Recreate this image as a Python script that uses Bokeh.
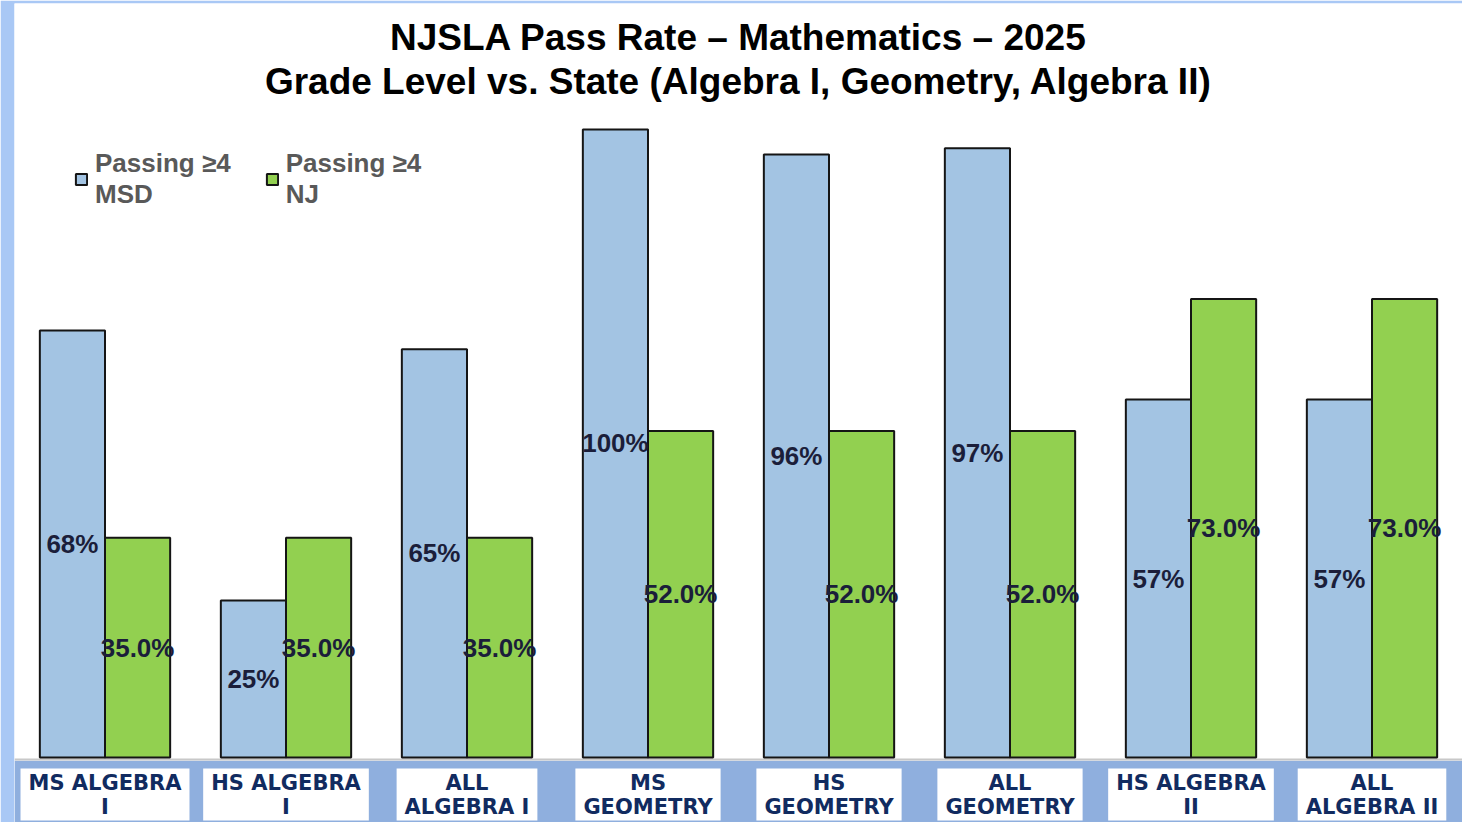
from bokeh.plotting import figure
from bokeh.models import ColumnDataSource, Legend, LegendItem, Label, BoxAnnotation, Span, FactorRange, Range1d
from bokeh.transform import dodge
from bokeh.core.properties import value
from bokeh.embed import file_html
from bokeh.resources import INLINE

# ---- data ----
categories = ["MS ALGEBRA I", "HS ALGEBRA I", "ALL ALGEBRA I", "MS GEOMETRY",
              "HS GEOMETRY", "ALL GEOMETRY", "HS ALGEBRA II", "ALL ALGEBRA II"]
axis_labels = ["MS ALGEBRA\nI", "HS ALGEBRA\nI", "ALL\nALGEBRA I", "MS\nGEOMETRY",
               "HS\nGEOMETRY", "ALL\nGEOMETRY", "HS ALGEBRA\nII", "ALL\nALGEBRA II"]
msd = [68, 25, 65, 100, 96, 97, 57, 57]
nj = [35.0, 35.0, 35.0, 52.0, 52.0, 52.0, 73.0, 73.0]
series_names = ["Passing \u22654\nMSD", "Passing \u22654\nNJ"]
title_line1 = "NJSLA Pass Rate \u2013 Mathematics \u2013 2025"
title_line2 = "Grade Level vs. State (Algebra I, Geometry, Algebra II)"

# ---- styling ----
BLUE = "#A3C4E3"
GREEN = "#92D050"
STRIP = "#A9C8F5"
BAND = "#8FAFDE"
LABEL_NAVY = "#112B60"
VAL_COLOR = "#1B1E3A"
W, H = 1462, 822
BAR_W = 0.36

src = ColumnDataSource(dict(
    cat=categories,
    lab=axis_labels,
    msd=msd,
    nj=nj,
    msd_mid=[v / 2 for v in msd],
    nj_mid=[v / 2 for v in nj],
    msd_txt=[f"{v:.0f}%" for v in msd],
    nj_txt=[f"{v:.1f}%" for v in nj],
    lab_y=[-5.9] * len(categories),
))

p = figure(x_range=FactorRange(*categories, range_padding=0),
           y_range=Range1d(-10.35, 120.06),
           width=W, height=H, output_backend="svg", toolbar_location=None,
           min_border_left=14, min_border_right=0, min_border_top=3, min_border_bottom=0)
p.background_fill_color = "white"
p.border_fill_color = STRIP
p.outline_line_color = None
p.xgrid.visible = False
p.ygrid.visible = False
p.xaxis.visible = False
p.yaxis.visible = False

# bottom band + baseline
p.add_layout(BoxAnnotation(top=-0.5, fill_color=BAND, fill_alpha=1.0, line_color=None, level="underlay"))
p.add_layout(Span(location=-0.3, dimension="width", line_color="#C8C8C8", line_width=2, level="underlay"))

r1 = p.vbar(x=dodge("cat", -BAR_W / 2, range=p.x_range), top="msd", width=BAR_W, source=src,
            fill_color=BLUE, line_color="#151515", line_width=2)
r2 = p.vbar(x=dodge("cat", BAR_W / 2, range=p.x_range), top="nj", width=BAR_W, source=src,
            fill_color=GREEN, line_color="#151515", line_width=2)

p.text(x=dodge("cat", -BAR_W / 2, range=p.x_range), y="msd_mid", text="msd_txt", source=src,
       text_align="center", text_baseline="middle", text_font=value("Liberation Sans"),
       text_font_style="bold", text_font_size="26px", text_color=VAL_COLOR)
p.text(x=dodge("cat", BAR_W / 2, range=p.x_range), y="nj_mid", text="nj_txt", source=src,
       text_align="center", text_baseline="middle", text_font=value("Liberation Sans"),
       text_font_style="bold", text_font_size="26px", text_color=VAL_COLOR)

# category labels in white boxes
p.text(x="cat", y="lab_y", text="lab", source=src,
       text_align="center", text_baseline="middle", text_font=value("DejaVu Sans"),
       text_font_style="bold", text_font_size="21px", text_color=LABEL_NAVY,
       text_line_height=1.0, background_fill_color="white",
       padding=dict(left=8, right=8, top=2, bottom=2))

# title
for txt, yy in [(title_line1, 785), (title_line2, 741)]:
    p.add_layout(Label(x=724, y=yy, x_units="screen", y_units="screen", text=txt,
                       text_align="center", text_baseline="middle",
                       text_font="Liberation Sans", text_font_style="bold",
                       text_font_size="37px", text_color="black"))

legend = Legend(items=[LegendItem(label=series_names[0], renderers=[r1]),
                       LegendItem(label=series_names[1], renderers=[r2])],
                orientation="horizontal", location=(60, 612),
                label_text_font="Liberation Sans", label_text_font_style="bold",
                label_text_font_size="26px", label_text_color="#595959",
                label_text_line_height=1.2,
                glyph_width=14, glyph_height=14, label_standoff=7, spacing=34,
                padding=0, margin=0, border_line_color=None, background_fill_alpha=0)
p.add_layout(legend)

open("out.html", "w").write(file_html(p, INLINE))
